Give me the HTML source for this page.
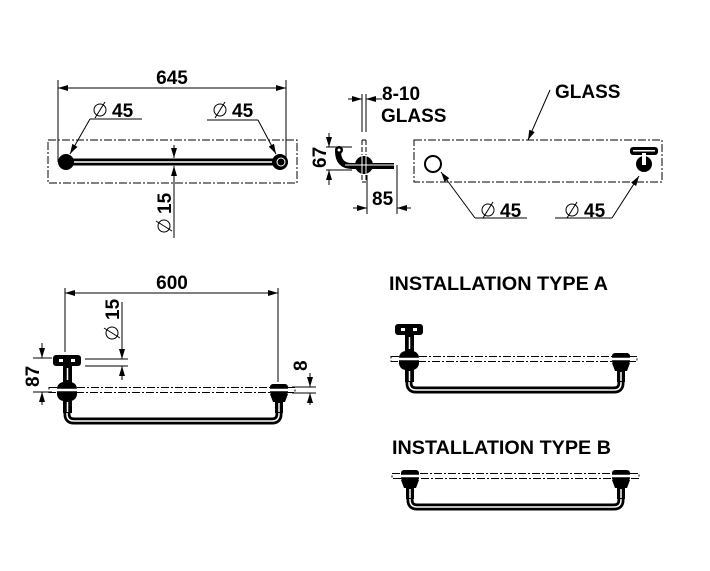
<!DOCTYPE html>
<html><head><meta charset="utf-8"><style>
html,body{margin:0;padding:0;background:#fff}
svg{display:block}
text{font-family:"Liberation Sans",Arial,sans-serif;font-weight:bold;font-size:19px;fill:#000}
</style></head><body>
<svg width="710" height="571" viewBox="0 0 710 571" xmlns="http://www.w3.org/2000/svg">
<defs>
<marker id="ar" viewBox="0 0 10 6" refX="10" refY="3" markerWidth="10" markerHeight="6" orient="auto-start-reverse" markerUnits="userSpaceOnUse">
<path d="M0,0 L10,3 L0,6 Z" fill="#000"/></marker>
<g id="dia"><circle cx="0" cy="0" r="6" fill="none" stroke="#000" stroke-width="1"/><line x1="-5" y1="8" x2="5" y2="-8" stroke="#000" stroke-width="1"/></g>
<g id="tfit">
<rect x="-14" y="-35" width="28" height="11" rx="3" fill="#000"/>
<rect x="-8" y="-31" width="4" height="3" fill="#fff"/><rect x="4" y="-31" width="4" height="3" fill="#fff"/>
<rect x="-4" y="-25" width="9" height="18" fill="#000"/>
<rect x="-10" y="-8" width="20" height="19" rx="7" fill="#000"/>
<rect x="-4" y="10" width="9" height="13" fill="#000"/>
<line x1="0.5" y1="-22" x2="0.5" y2="-10" stroke="#fff" stroke-width="1.5"/>
<line x1="0.5" y1="12" x2="0.5" y2="22" stroke="#fff" stroke-width="1.5"/>
</g>
<g id="cfit">
<rect x="-9" y="-6" width="18" height="11" rx="3" fill="#000"/>
<path d="M-9,4 L9,4 L6,12 L-6,12 Z" fill="#000"/>
<rect x="-4" y="11" width="8" height="12" fill="#000"/>
<line x1="0" y1="13" x2="0" y2="22" stroke="#fff" stroke-width="1.5"/>
</g>
</defs>

<g stroke="#000" stroke-width="1" fill="none">
<line x1="58" y1="80" x2="58" y2="162"/><line x1="286" y1="80" x2="286" y2="162"/>
<line x1="58" y1="88" x2="286" y2="88" marker-start="url(#ar)" marker-end="url(#ar)"/>
<rect x="48" y="140" width="249" height="43" stroke-dasharray="8,2,2,2"/>
<line x1="90" y1="119" x2="142" y2="119"/><line x1="90" y1="119" x2="70" y2="154" marker-end="url(#ar)"/>
<line x1="207" y1="120" x2="258" y2="120"/><line x1="258" y1="120" x2="276" y2="154" marker-end="url(#ar)"/>
<line x1="174" y1="145" x2="174" y2="158" marker-end="url(#ar)"/>
<line x1="174" y1="238" x2="174" y2="166" marker-end="url(#ar)"/>
</g>
<line x1="66" y1="162" x2="280" y2="162" stroke="#000" stroke-width="7"/>
<line x1="66" y1="162" x2="280" y2="162" stroke="#fff" stroke-width="1.5"/>
<circle cx="66" cy="162" r="8" fill="#000"/><circle cx="280" cy="162" r="8" fill="#000"/>
<circle cx="281" cy="162" r="4" fill="none" stroke="#fff" stroke-width="1"/>
<text x="172" y="84" text-anchor="middle">645</text>
<use href="#dia" x="100" y="110"/><text x="112" y="117">45</text>
<use href="#dia" x="220" y="110"/><text x="232" y="117">45</text>
<text transform="translate(171,214) rotate(-90)">15</text>
<g transform="translate(164,226) rotate(-90)"><use href="#dia"/></g>

<g stroke="#000" stroke-width="1" fill="none">
<line x1="326" y1="147" x2="352" y2="147"/><line x1="326" y1="170" x2="352" y2="170"/>
<line x1="329" y1="133" x2="329" y2="147" marker-end="url(#ar)"/>
<line x1="329" y1="185" x2="329" y2="170" marker-end="url(#ar)"/>
<line x1="362" y1="94" x2="362" y2="132"/><line x1="366" y1="94" x2="366" y2="132"/>
<line x1="348" y1="99" x2="362" y2="99" marker-end="url(#ar)"/>
<line x1="382" y1="99" x2="366" y2="99" marker-end="url(#ar)"/>
<line x1="362" y1="140" x2="366" y2="140"/>
<line x1="362" y1="140" x2="362" y2="182" stroke-dasharray="5,2"/><line x1="366" y1="140" x2="366" y2="182" stroke-dasharray="5,2"/>
<line x1="362" y1="182" x2="366" y2="182"/>
<line x1="367" y1="175" x2="367" y2="214"/><line x1="397" y1="165" x2="397" y2="214"/>
<line x1="353" y1="208" x2="367" y2="208" marker-end="url(#ar)"/>
<line x1="411" y1="208" x2="397" y2="208" marker-end="url(#ar)"/>
</g>
<path d="M338,151 Q338,166 352,166 L394,166" stroke="#000" stroke-width="6" fill="none"/>
<circle cx="339" cy="150" r="4" fill="#000"/><circle cx="339" cy="150" r="1.5" fill="#fff"/>
<ellipse cx="364" cy="165" rx="9" ry="9" fill="#000"/>
<line x1="345" y1="165" x2="395" y2="165" stroke="#fff" stroke-width="1"/>
<line x1="362" y1="155" x2="362" y2="175" stroke="#fff" stroke-width="1"/><line x1="366" y1="155" x2="366" y2="175" stroke="#fff" stroke-width="1"/>
<text transform="translate(326,168) rotate(-90)">67</text>
<text x="382" y="100">8-10</text>
<text x="381" y="122">GLASS</text>
<text x="372" y="205">85</text>

<g stroke="#000" stroke-width="1" fill="none">
<rect x="414" y="140" width="248" height="42" stroke-dasharray="8,2,2,2"/>
<circle cx="433" cy="164" r="8" stroke-width="2"/>
<line x1="550" y1="90" x2="528" y2="140" marker-end="url(#ar)"/>
<line x1="475" y1="218" x2="527" y2="218"/><line x1="475" y1="218" x2="441" y2="172" marker-end="url(#ar)"/>
<line x1="555" y1="218" x2="612" y2="218"/><line x1="612" y1="218" x2="639" y2="176" marker-end="url(#ar)"/>
</g>
<rect x="630" y="147" width="28" height="8" rx="3" fill="#000"/>
<circle cx="644" cy="164" r="8" fill="#000"/>
<rect x="642" y="153" width="4" height="12" fill="#fff"/>
<rect x="633" y="150" width="22" height="1.5" fill="#fff"/>
<text x="555" y="98">GLASS</text>
<use href="#dia" x="488" y="210"/><text x="500" y="217">45</text>
<use href="#dia" x="572" y="210"/><text x="584" y="217">45</text>

<g stroke="#000" stroke-width="1" fill="none">
<line x1="65" y1="288" x2="65" y2="352"/><line x1="278" y1="288" x2="278" y2="382"/>
<line x1="65" y1="293" x2="278" y2="293" marker-start="url(#ar)" marker-end="url(#ar)"/>
<line x1="85" y1="359" x2="128" y2="359"/><line x1="85" y1="366" x2="128" y2="366"/>
<line x1="122" y1="302" x2="122" y2="359" marker-end="url(#ar)"/>
<line x1="122" y1="380" x2="122" y2="366" marker-end="url(#ar)"/>
<line x1="33" y1="358" x2="52" y2="358"/><line x1="33" y1="392" x2="52" y2="392"/>
<line x1="42" y1="343" x2="42" y2="358" marker-end="url(#ar)"/>
<line x1="42" y1="405" x2="42" y2="392" marker-end="url(#ar)"/>
<line x1="292" y1="387" x2="316" y2="387"/><line x1="292" y1="393" x2="316" y2="393"/>
<line x1="310" y1="373" x2="310" y2="387" marker-end="url(#ar)"/>
<line x1="310" y1="405" x2="310" y2="393" marker-end="url(#ar)"/>
</g>
<text x="172" y="289" text-anchor="middle">600</text>
<text transform="translate(119,320) rotate(-90)">15</text>
<g transform="translate(112,333) rotate(-90)"><use href="#dia"/></g>
<text transform="translate(39,387) rotate(-90)">87</text>
<text transform="translate(307,371) rotate(-90)">8</text>

<g id="asmA" transform="translate(67,390)">
<path d="M0,20 L0,24 Q0,31 7,31 L205,31 Q212,31 212,24 L212,20" stroke="#000" stroke-width="7" fill="none"/>
<path d="M0,20 L0,24 Q0,31 7,31 L205,31 Q212,31 212,24 L212,20" stroke="#fff" stroke-width="1.5" fill="none"/>
<use href="#tfit"/><use href="#cfit" x="212"/>
<line x1="-18" y1="0" x2="228" y2="0" stroke="#fff" stroke-width="2.5"/>
<rect x="-18" y="-2.5" width="246" height="5" fill="none" stroke="#000" stroke-width="1" stroke-dasharray="8,2,2,2"/>
</g>
<use href="#asmA" transform="translate(342,-31)"/>
<g transform="translate(410,476)">
<path d="M0,20 L0,24 Q0,31 7,31 L204,31 Q211,31 211,24 L211,20" stroke="#000" stroke-width="7" fill="none"/>
<path d="M0,20 L0,24 Q0,31 7,31 L204,31 Q211,31 211,24 L211,20" stroke="#fff" stroke-width="1.5" fill="none"/>
<use href="#cfit"/><use href="#cfit" x="211"/>
<line x1="-18" y1="0" x2="229" y2="0" stroke="#fff" stroke-width="2.5"/>
<rect x="-18" y="-2.5" width="247" height="5" fill="none" stroke="#000" stroke-width="1" stroke-dasharray="8,2,2,2"/>
</g>
<text x="389" y="290" textLength="219" lengthAdjust="spacingAndGlyphs">INSTALLATION TYPE A</text>
<text x="392" y="454" textLength="219" lengthAdjust="spacingAndGlyphs">INSTALLATION TYPE B</text>
</svg>
</body></html>
